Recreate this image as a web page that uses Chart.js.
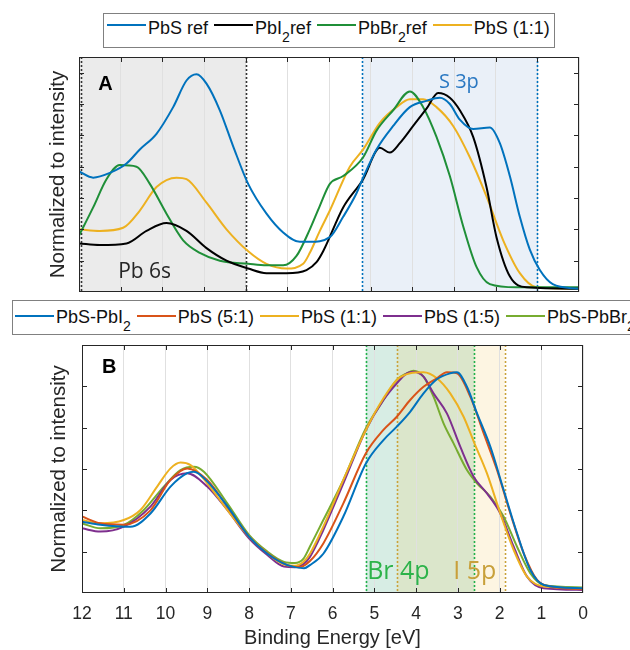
<!DOCTYPE html>
<html>
<head>
<meta charset="utf-8">
<script src="https://cdn.jsdelivr.net/npm/chart.js@4.4.1/dist/chart.umd.min.js"></script>
<style>
  html, body { margin: 0; padding: 0; background: #fff; overflow: hidden; }
  body { width: 630px; height: 650px; position: relative; font-family: "Liberation Sans", Arial, sans-serif; }
  canvas { position: absolute; left: 0; }
  #chartA { top: 0; }
  #chartB { top: 337px; }
  .legend { position: absolute; box-sizing: border-box; height: 35px; border: 1.5px solid #808080;
            background: #fff; white-space: nowrap; font-size: 18px; line-height: 18px; color: #111; }
  #legendA { left: 103px; top: 13px; width: 452px; padding: 5px 0 0 3px; --lt: 4.5px; }
  #legendB { left: 12px; top: 300px; width: 680px; padding: 7px 0 0 2px; --lt: 7.2px; }
  .item { display: inline-block; position: relative; padding-left: 41px; margin-right: 6px; }
  .item i { position: absolute; left: 0; top: var(--lt); width: 39px; height: 2px; }
  sub { font-size: 0.78em; vertical-align: baseline; position: relative; top: 0.55em; }
</style>
</head>
<body>
<canvas id="chartA" width="630" height="300"></canvas>
<canvas id="chartB" width="630" height="313"></canvas>
<div class="legend" id="legendA"></div>
<div class="legend" id="legendB"></div>
<script>
// ---- panel A: reference spectra (binding energy in eV, normalized intensity) ----
const pbsRefE = [12.0, 11.66, 11.26, 10.86, 10.54, 10.14, 9.74, 9.42, 9.18, 8.94, 8.62, 8.30, 7.94, 7.50, 7.10, 6.70, 6.46, 5.98, 5.66, 5.34, 5.18, 4.86, 4.46, 4.06, 3.66, 3.34, 3.10, 2.86, 2.54, 2.14, 1.90, 1.66, 1.42, 1.18, 0.94, 0.63, 0.0];
const pbsRefY = [0.77, 0.73, 0.76, 0.82, 0.91, 1.01, 1.18, 1.35, 1.39, 1.33, 1.16, 0.93, 0.69, 0.50, 0.38, 0.32, 0.32, 0.35, 0.48, 0.63, 0.73, 0.91, 1.06, 1.18, 1.22, 1.24, 1.20, 1.10, 1.04, 1.05, 0.95, 0.74, 0.48, 0.27, 0.14, 0.05, 0.02];

const pbi2RefE = [12.0, 11.5, 10.86, 10.38, 9.90, 9.42, 8.94, 8.46, 7.94, 7.50, 7.02, 6.54, 6.30, 6.14, 5.66, 5.18, 4.78, 4.54, 4.30, 3.98, 3.66, 3.38, 3.10, 2.86, 2.54, 2.22, 1.98, 1.66, 1.26, 0.0];
const pbi2RefY = [0.31, 0.30, 0.31, 0.39, 0.44, 0.39, 0.28, 0.20, 0.15, 0.12, 0.12, 0.14, 0.19, 0.26, 0.54, 0.72, 0.92, 0.89, 0.95, 1.06, 1.17, 1.27, 1.24, 1.16, 0.99, 0.67, 0.35, 0.10, 0.03, 0.02];

const pbbr2RefE = [12.0, 11.66, 11.34, 11.02, 10.62, 10.30, 9.90, 9.50, 9.10, 8.62, 7.94, 7.50, 7.10, 6.78, 6.46, 6.22, 5.98, 5.66, 5.18, 4.86, 4.46, 4.06, 3.74, 3.42, 3.10, 2.78, 2.46, 2.14, 1.50, 0.0];
const pbbr2RefY = [0.36, 0.54, 0.72, 0.81, 0.80, 0.69, 0.50, 0.33, 0.25, 0.20, 0.18, 0.17, 0.17, 0.23, 0.40, 0.55, 0.69, 0.74, 0.86, 1.03, 1.16, 1.28, 1.18, 0.99, 0.74, 0.42, 0.16, 0.05, 0.03, 0.03];

const pbs11AE = [12.0, 11.5, 10.94, 10.54, 10.14, 9.66, 9.42, 8.94, 8.46, 7.94, 7.50, 7.02, 6.62, 6.46, 6.22, 5.98, 5.50, 5.18, 4.78, 4.38, 4.06, 3.74, 3.42, 3.02, 2.62, 2.22, 1.82, 1.42, 1.02, 0.0];
const pbs11AY = [0.40, 0.39, 0.41, 0.52, 0.67, 0.73, 0.72, 0.57, 0.40, 0.26, 0.18, 0.15, 0.18, 0.25, 0.39, 0.52, 0.80, 0.91, 1.08, 1.18, 1.23, 1.23, 1.18, 1.06, 0.86, 0.61, 0.33, 0.12, 0.03, 0.02];

// ---- panel B: mixed films ----
const pbsPbi2E = [12.0, 11.56, 10.84, 10.36, 9.88, 9.48, 9.32, 9.0, 8.52, 8.0, 7.56, 7.08, 6.68, 6.54, 6.22, 5.74, 5.2, 4.78, 4.46, 4.14, 3.82, 3.5, 3.18, 3.02, 2.78, 2.54, 2.22, 1.90, 1.58, 1.26, 0.94, 0.0];
const pbsPbi2Y = [0.345, 0.33, 0.32, 0.385, 0.515, 0.58, 0.587, 0.54, 0.42, 0.273, 0.19, 0.135, 0.12, 0.135, 0.19, 0.37, 0.627, 0.74, 0.805, 0.877, 0.966, 1.034, 1.063, 1.068, 0.998, 0.87, 0.708, 0.498, 0.289, 0.111, 0.039, 0.023];

const pbs51E = [12.0, 11.56, 11.0, 10.36, 9.88, 9.48, 9.0, 8.52, 8.0, 7.56, 7.08, 6.8, 6.54, 6.22, 5.74, 5.2, 4.78, 4.46, 4.14, 3.82, 3.5, 3.26, 3.02, 2.70, 2.38, 2.06, 1.74, 1.42, 1.10, 0.78, 0.0];
const pbs51Y = [0.37, 0.337, 0.33, 0.40, 0.547, 0.603, 0.547, 0.418, 0.273, 0.192, 0.135, 0.125, 0.155, 0.24, 0.434, 0.676, 0.789, 0.853, 0.934, 0.998, 1.039, 1.068, 1.063, 0.95, 0.773, 0.595, 0.385, 0.192, 0.063, 0.031, 0.018];

const pbs11BE = [12.0, 11.56, 11.0, 10.6, 10.2, 9.88, 9.64, 9.4, 9.0, 8.52, 8.0, 7.56, 7.16, 6.9, 6.7, 6.54, 6.22, 5.74, 5.2, 4.78, 4.46, 4.14, 3.82, 3.5, 3.18, 2.86, 2.6, 2.3, 1.98, 1.66, 1.34, 0.94, 0.0];
const pbs11BY = [0.353, 0.337, 0.353, 0.402, 0.515, 0.603, 0.631, 0.619, 0.531, 0.402, 0.273, 0.192, 0.138, 0.132, 0.15, 0.19, 0.321, 0.547, 0.789, 0.942, 1.031, 1.063, 1.068, 1.039, 0.966, 0.853, 0.724, 0.579, 0.385, 0.208, 0.079, 0.031, 0.023];

const pbs15E = [12.0, 11.56, 11.0, 10.36, 9.88, 9.48, 9.0, 8.52, 8.0, 7.56, 7.16, 6.9, 6.7, 6.54, 6.22, 5.74, 5.2, 4.78, 4.46, 4.22, 4.06, 3.82, 3.58, 3.26, 2.94, 2.62, 2.30, 1.98, 1.66, 1.34, 0.94, 0.0];
const pbs15Y = [0.313, 0.297, 0.321, 0.418, 0.547, 0.579, 0.515, 0.402, 0.265, 0.184, 0.128, 0.125, 0.14, 0.175, 0.305, 0.531, 0.789, 0.934, 1.015, 1.063, 1.071, 1.047, 0.966, 0.869, 0.708, 0.563, 0.482, 0.385, 0.224, 0.079, 0.023, 0.015];

const pbsPbbr2E = [12.0, 11.56, 11.0, 10.52, 10.04, 9.64, 9.32, 9.08, 8.52, 8.0, 7.56, 7.16, 6.9, 6.7, 6.54, 6.22, 5.74, 5.2, 4.78, 4.46, 4.22, 4.06, 3.82, 3.58, 3.34, 3.10, 2.78, 2.54, 2.22, 1.90, 1.58, 1.26, 0.94, 0.0];
const pbsPbbr2Y = [0.337, 0.313, 0.329, 0.402, 0.515, 0.595, 0.611, 0.587, 0.434, 0.281, 0.2, 0.15, 0.145, 0.165, 0.225, 0.353, 0.547, 0.797, 0.934, 1.031, 1.063, 1.076, 1.047, 0.95, 0.821, 0.724, 0.595, 0.531, 0.466, 0.369, 0.224, 0.095, 0.039, 0.027];

const FONT = '"Liberation Sans", Arial, sans-serif';
const INK = '#262626';

function series(label, xs, ys, color) {
  return {
    label: label,
    data: xs.map((e, i) => ({ x: e, y: ys[i] })),
    borderColor: color,
    borderWidth: 2,
    pointRadius: 0,
    fill: false,
    cubicInterpolationMode: 'monotone'
  };
}

// shaded bands, dotted markers, frame with inward ticks and text notes
function makeDecor(cfg) {
  return {
    id: 'panelDecor',
    beforeDraw(chart) {
      const { ctx, chartArea: a, scales: { x } } = chart;
      ctx.save();
      cfg.bands.forEach(b => {
        const x1 = x.getPixelForValue(b.from), x2 = x.getPixelForValue(b.to);
        ctx.fillStyle = b.color;
        ctx.fillRect(Math.min(x1, x2), a.top, Math.abs(x2 - x1), a.bottom - a.top);
      });
      ctx.restore();
    },
    beforeDatasetsDraw(chart) {
      const { ctx, chartArea: a, scales: { x } } = chart;
      ctx.save();
      ctx.lineWidth = 1.6;
      ctx.setLineDash([2, 2]);
      cfg.markers.forEach(m => {
        const px = Math.round(x.getPixelForValue(m.at)) + 0.5;
        ctx.strokeStyle = m.color;
        ctx.beginPath();
        ctx.moveTo(px, a.top);
        ctx.lineTo(px, a.bottom);
        ctx.stroke();
      });
      ctx.restore();
    },
    afterDatasetsDraw(chart) {
      const { ctx, chartArea: a, scales: { x, y } } = chart;
      ctx.save();
      ctx.strokeStyle = INK;
      ctx.lineWidth = 1;
      ctx.strokeRect(a.left + 0.5, a.top + 0.5, a.right - a.left - 1, a.bottom - a.top - 1);
      ctx.beginPath();
      x.ticks.forEach(t => {
        if (t.value <= x.min || t.value >= x.max) return;
        const px = Math.round(x.getPixelForValue(t.value)) + 0.5;
        ctx.moveTo(px, a.bottom); ctx.lineTo(px, a.bottom - 5);
        ctx.moveTo(px, a.top); ctx.lineTo(px, a.top + 5);
      });
      y.ticks.forEach(t => {
        if (t.value <= y.min + 1e-9 || t.value >= y.max - 1e-9) return;
        const py = Math.round(y.getPixelForValue(t.value)) + 0.5;
        ctx.moveTo(a.left, py); ctx.lineTo(a.left + 5, py);
        ctx.moveTo(a.right, py); ctx.lineTo(a.right - 5, py);
      });
      ctx.stroke();
      ctx.textAlign = 'left';
      ctx.textBaseline = 'alphabetic';
      cfg.notes.forEach(n => {
        ctx.font = n.font;
        ctx.fillStyle = n.color;
        ctx.fillText(n.text, x.getPixelForValue(n.at), y.getPixelForValue(n.value));
      });
      ctx.restore();
    }
  };
}

function baseOptions(yMax, yWidth, xAxis, pad, titlePad) {
  return {
    responsive: false,
    animation: false,
    layout: { padding: pad },
    plugins: { legend: { display: false }, tooltip: { enabled: false } },
    scales: {
      x: xAxis,
      y: {
        min: 0, max: yMax,
        ticks: { display: false, stepSize: 0.2 },
        grid: { display: false },
        border: { display: false },
        title: { display: true, text: 'Normalized to intensity', color: INK,
                 font: { family: FONT, size: 20.5 }, padding: { top: titlePad, bottom: 0 } },
        afterFit: s => { s.width = yWidth; }
      }
    }
  };
}

const chartA = new Chart(document.getElementById('chartA'), {
  type: 'line',
  data: {
    datasets: [
      series('PbS ref', pbsRefE, pbsRefY, '#0072BD'),
      series('PbI₂ref', pbi2RefE, pbi2RefY, '#000000'),
      series('PbBr₂ref', pbbr2RefE, pbbr2RefY, '#1f8f38'),
      series('PbS (1:1)', pbs11AE, pbs11AY, '#EDB120')
    ]
  },
  options: baseOptions(1.5, 79, {
    type: 'linear', reverse: true, min: 0, max: 12,
    ticks: { display: false, stepSize: 1 },
    grid: { color: '#e0e0e0', drawTicks: false },
    border: { display: false },
    afterFit: s => { s.height = 0; }
  }, { top: 57, right: 51, bottom: 8, left: 0 }, 46),
  plugins: [makeDecor({
    bands: [
      { from: 12, to: 8, color: '#ebebeb' },
      { from: 5.2, to: 1.0, color: '#eaf0f8' }
    ],
    markers: [
      { at: 11.95, color: '#333333' }, { at: 8.0, color: '#333333' },
      { at: 5.2, color: '#0072BD' }, { at: 1.0, color: '#0072BD' }
    ],
    notes: [
      { text: 'A', at: 11.54, value: 1.29, color: '#000', font: 'bold 20px ' + FONT },
      { text: 'Pb 6s', at: 11.06, value: 0.087, color: INK, font: '21px "Open Sans"' },
      { text: 'S 3p', at: 3.36, value: 1.30, color: '#2a78c2', font: '20px "Open Sans"' }
    ]
  })]
});

const chartB = new Chart(document.getElementById('chartB'), {
  type: 'line',
  data: {
    datasets: [
      series('PbS-PbI₂', pbsPbi2E, pbsPbi2Y, '#0072BD'),
      series('PbS (5:1)', pbs51E, pbs51Y, '#D95319'),
      series('PbS (1:1)', pbs11BE, pbs11BY, '#EDB120'),
      series('PbS (1:5)', pbs15E, pbs15Y, '#7E2F8E'),
      series('PbS-PbBr₂', pbsPbbr2E, pbsPbbr2Y, '#77AC30')
    ]
  },
  options: baseOptions(1.2, 82, {
    type: 'linear', reverse: true, min: 0, max: 12,
    ticks: { stepSize: 1, color: INK, font: { family: FONT, size: 17.5 }, padding: 11, maxRotation: 0, autoSkip: false },
    grid: { color: '#e0e0e0', drawTicks: false },
    border: { display: false },
    title: { display: true, text: 'Binding Energy [eV]', color: INK,
             font: { family: FONT, size: 20 }, padding: { top: 0, bottom: 0 } },
    afterFit: s => { s.height = 57; }
  }, { top: 8, right: 47, bottom: 0, left: 0 }, 47),
  plugins: [makeDecor({
    bands: [
      { from: 5.2, to: 2.6, color: 'rgba(40,160,110,0.19)' },
      { from: 4.45, to: 1.88, color: 'rgba(240,190,60,0.15)' }
    ],
    markers: [
      { at: 5.2, color: '#22b04b' }, { at: 2.6, color: '#22b04b' },
      { at: 4.45, color: '#c9a23a' }, { at: 1.88, color: '#c9a23a' }
    ],
    notes: [
      { text: 'B', at: 11.52, value: 1.066, color: '#000', font: 'bold 20px ' + FONT },
      { text: 'Br 4p', at: 5.17, value: 0.066, color: '#2db34a', font: '25px "Open Sans"' },
      { text: 'I 5p', at: 3.11, value: 0.066, color: '#c8a03a', font: '25px "Open Sans"' }
    ]
  })]
});

function buildLegend(el, chart) {
  el.innerHTML = chart.data.datasets.map(ds =>
    '<span class="item"><i style="background:' + ds.borderColor + '"></i>' +
    ds.label.replace(/₂/g, '<sub>2</sub>') + '</span>').join('');
}
buildLegend(document.getElementById('legendA'), chartA);
buildLegend(document.getElementById('legendB'), chartB);
</script>
</body>
</html>
